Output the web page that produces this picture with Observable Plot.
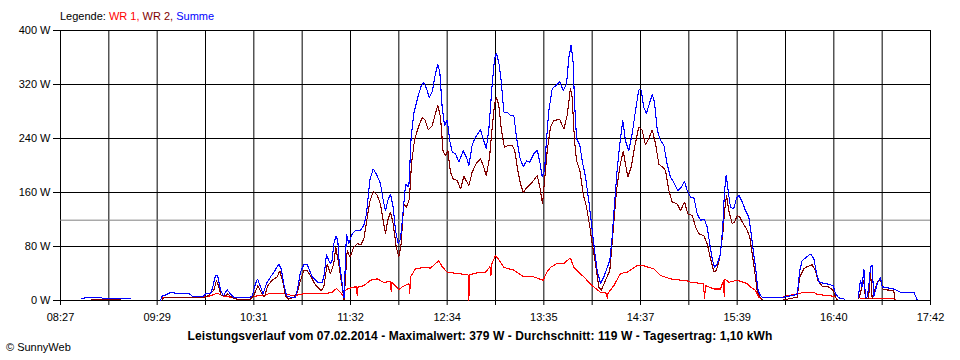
<!DOCTYPE html>
<html>
<head>
<meta charset="utf-8">
<script src="https://cdn.jsdelivr.net/npm/d3@7"></script>
<script src="https://cdn.jsdelivr.net/npm/@observablehq/plot@0.6"></script>
<style>
  html, body { margin: 0; padding: 0; background: #fff; }
  #wrap { position: relative; width: 960px; height: 360px; font-family: "Liberation Sans", Arial, sans-serif; color: #000; }
  #chart { position: absolute; left: 0; top: 0; }
  .txt { position: absolute; white-space: nowrap; line-height: 1; }
  #legend { left: 60px; top: 11px; font-size: 11px; }
  #title { left: 0; width: 960px; top: 330px; text-align: center; font-size: 12px; font-weight: bold; letter-spacing: 0.09px; }
  #copy { left: 6px; top: 342px; font-size: 11px; }
</style>
</head>
<body>
<div id="wrap">
  <div id="chart"></div>
  <div id="legend" class="txt"></div>
  <div id="title" class="txt"></div>
  <div id="copy" class="txt"></div>
</div>
<script>
// ---- Data (time in minutes since midnight, power in W) ----
const dayStart = 507;   // 08:27
const dayEnd = 1062;    // 17:42
const xTickLabels = ["08:27","09:29","10:31","11:32","12:34","13:35","14:37","15:39","16:40","17:42"];
const yTicks = [0, 80, 160, 240, 320, 400];
const seriesNames = ["WR 1", "WR 2", "Summe"];
const seriesColors = ["#ff0000", "#800000", "#0000ff"];
const dateText = "07.02.2014";
const maxWatt = 379;
const avgWatt = 119;
const dayYield = "1,10";

// WR 1
const wr1Time = [571.9,577.2,585.7,598.4,602.7,607.0,610.2,615.4,628.2,632.5,636.7,641.0,649.4,655.8,662.2,668.6,675.0,680.3,683.1,685.6,687.7,688.5,689.9,694.1,695.8,696.3,696.8,700.5,704.8,709.0,713.2,717.5,718.0,718.5,722.8,725.0,729.3,729.8,730.3,733.5,738.8,743.0,748.3,750.5,753.7,760.1,767.0,767.5,767.9,772.8,778.1,781.0,781.6,782.3,784.5,787.7,789.8,796.2,802.6,808.9,814.9,817.5,819.6,823.9,828.1,832.3,834.5,840.8,846.2,851.5,855.3,855.8,856.3,860.0,864.2,868.5,874.9,878.1,885.5,889.8,896.1,906.8,908.9,917.2,917.8,918.5,923.8,928.0,930.0,930.4,930.9,933.3,938.7,945.1,947.2,950.4,952.5,954.6,955.0,968.4,977.0,981.2,987.6,989.7,998.2,1001.4,1002.5,1003.0,1017.3,1038.6,1039.7];
const wr1Watt = [4,4,5,5,7,11,7,5,4,7,7,11,10,7,10,11,10,12,18,12,5,14,17,20,20,7,20,22,30,32,27,28,12,27,16,20,25,10,35,47,49,48,59,50,42,40,38,0,38,41,42,50,37,55,67,57,49,45,35,35,30,43,49,55,55,63,49,35,22,12,11,3,11,22,40,42,52,52,47,37,32,29,27,25,3,22,17,17,30,5,32,27,30,25,20,15,5,1,null,6,10,12,12,9,7,5,1,null,3,3,1];

// WR 2
const wr2Time = [526.6,545.3,546.0,571.9,574.0,585.5,586.7,598.2,600.6,604.8,606.5,608.0,609.5,612.3,613.7,616.5,619.7,628.2,630.3,632.9,635.0,637.1,639.2,642.1,645.2,646.9,649.1,650.5,652.6,655.8,658.0,660.1,662.2,664.4,666.5,668.6,670.8,673.3,675.0,677.1,679.2,681.3,682.6,684.5,686.7,687.9,689.9,691.6,694.1,696.3,698.8,700.5,702.2,704.3,706.5,709.0,711.1,713.2,714.3,715.8,717.5,719.2,721.2,722.8,724.3,726.0,727.7,729.6,730.9,732.8,734.9,737.7,739.4,741.6,744.1,746.2,747.7,749.4,751.1,752.6,754.1,755.8,757.5,760.1,762.2,764.3,766.4,767.5,769.6,772.2,774.9,777.0,778.6,780.7,782.4,783.9,785.1,786.6,788.3,790.2,793.0,795.2,796.8,798.7,800.4,802.2,804.7,807.9,811.1,812.8,814.5,815.8,817.5,819.6,821.7,825.5,828.1,830.2,832.3,833.4,834.9,836.2,838.3,840.4,842.6,844.7,846.2,848.3,850.4,851.9,854.7,857.4,859.6,861.7,863.8,866.0,867.4,868.9,871.1,873.2,875.9,878.1,880.2,882.3,884.5,886.6,888.7,890.8,892.9,895.1,897.2,900.4,902.5,905.1,907.2,910.0,912.1,914.2,917.4,919.5,921.7,923.8,925.5,927.6,929.5,930.8,931.9,933.3,935.5,937.0,938.7,940.3,942.5,945.1,946.7,948.3,949.9,951.4,953.1,954.6,955.0,968.4,977.0,978.6,981.2,983.3,986.5,988.6,990.1,992.9,997.1,999.9,1001.4,1002.5,1003.0,1016.3,1019.5,1020.5,1022.5,1023.7,1024.8,1028.0,1030.1,1031.8,1038.6,1039.2];
const wr2Watt = [1.5,1.5,null,2,5,5,4,4,6,15,30,20,7,7,10,4,2,2,7,22,12,5,22,30,35,44,25,7,2,5,12,30,44,44,37,27,20,15,20,54,40,54,79,54,20,1,74,64,79,84,83,91,116,146,162,156,143,114,99,119,131,114,79,64,84,143,138,151,202,237,254,271,268,253,259,277,289,272,220,215,222,190,180,178,165,184,175,170,190,203,210,198,185,212,257,291,301,289,252,227,230,230,222,193,173,160,168,175,185,168,143,178,222,257,267,268,254,274,314,301,237,207,193,158,138,109,84,54,20,15,30,44,104,163,198,222,202,183,198,227,257,252,230,240,253,232,202,198,193,163,146,143,133,146,128,126,109,99,96,84,62,42,45,64,99,136,156,133,114,116,126,124,114,104,94,69,42,15,6,1,null,1,5,35,47,50,53,44,30,21,20,15,5,1,null,3,30,3,3,44,3,27,30,16,15,1];

// Summe
const sumTime = [520.4,526.6,532.5,533.8,545.3,548.5,551.7,552.0,570.8,571.9,574.0,577.2,579.1,580.4,585.5,586.7,588.7,591.2,598.2,599.5,602.7,603.8,605.9,607.2,607.8,609.1,611.0,613.3,615.4,617.4,628.2,629.3,631.4,632.7,634.6,636.3,638.4,641.0,643.1,646.3,647.8,649.4,651.2,653.7,656.9,658.0,660.1,662.2,664.4,666.0,667.6,669.7,671.8,673.9,675.0,676.7,678.2,679.2,680.3,681.3,682.8,683.9,684.5,686.7,687.9,689.4,690.9,693.1,695.2,698.4,700.5,702.2,704.3,706.5,709.0,711.1,712.9,714.3,715.8,717.5,719.2,720.7,722.4,723.9,725.6,727.1,729.2,730.7,732.4,734.9,737.1,738.8,740.5,742.2,744.1,746.2,747.7,749.0,750.5,752.0,753.7,755.3,756.9,759.0,761.1,763.9,766.0,767.5,769.6,771.7,774.9,777.0,778.6,780.2,782.4,783.9,785.1,786.6,788.1,789.8,792.0,794.1,796.2,797.9,800.0,802.2,804.3,806.4,808.9,811.1,812.8,814.3,815.8,817.0,818.5,820.7,822.8,825.5,827.7,829.8,831.3,832.8,834.1,834.9,836.2,838.3,839.8,841.9,844.0,845.7,847.7,849.4,851.5,853.6,855.8,857.4,858.9,860.4,862.1,863.8,865.7,867.4,869.5,871.7,873.8,875.9,877.4,879.1,880.8,882.3,884.5,885.9,887.7,889.8,891.9,894.0,896.1,898.7,900.8,903.0,905.1,906.8,908.9,911.0,913.2,915.3,917.8,919.5,921.2,922.7,924.2,925.9,928.0,929.5,930.6,931.7,932.9,934.4,936.5,938.2,939.7,941.9,944.0,946.1,947.6,948.9,950.4,951.8,953.1,954.6,968.4,970.6,977.0,978.6,980.1,982.3,985.4,987.6,989.3,991.0,992.9,997.1,999.9,1001.4,1003.5,1007.1,1007.5,1015.9,1017.3,1018.4,1019.5,1020.5,1021.6,1022.6,1023.7,1024.8,1025.8,1028.0,1030.1,1031.2,1032.2,1038.6,1042.9,1051.4,1053.5];
const sumWatt = [3,5,5,3.5,3.5,2.5,2.5,null,0,7,8,12,12,10,10,11,11,6,6,10,10,17,37,37,30,15,7,16,10,5,5,7,25,32,20,10,25,35,42,54,47,25,7,5,5,15,42,53,53,44,35,30,26,27,35,68,59,54,60,84,95,89,64,25,3,98,84,99,104,104,111,128,178,195,185,173,148,133,148,158,138,104,84,91,133,172,168,242,277,301,318,323,314,301,309,336,350,338,286,259,267,237,220,217,205,222,212,200,230,242,253,237,225,252,321,358,366,353,326,279,279,274,274,242,212,198,207,205,217,223,205,183,193,237,281,314,318,324,311,321,360,379,351,294,240,230,207,183,148,114,74,44,25,35,49,59,94,143,193,232,267,237,222,247,281,312,312,286,277,289,305,294,252,237,230,202,183,173,163,168,176,163,153,153,128,119,120,109,84,62,49,54,69,109,163,186,163,138,136,151,156,146,133,124,99,74,49,17,9,5,5,6,9,44,59,63,69,62,40,27,26,24,22,10,4,2,null,5,30,20,47,5,5,20,49,53,5,25,34,20,20,17,12,12,1];

// ---- Build ----
const toRows = (times, watts) => times.map((t, i) => ({t, w: watts[i]}));
const series = [toRows(wr1Time, wr1Watt), toRows(wr2Time, wr2Watt), toRows(sumTime, sumWatt)];

const gridCount = (xTickLabels.length - 1) * 2;
const gridTimes = d3.range(gridCount + 1).map(i => dayStart + i * (dayEnd - dayStart) / gridCount);
const labelOf = new Map(gridTimes.map((g, i) => [g, i % 2 === 0 ? xTickLabels[i / 2] : ""]));

const chart = Plot.plot({
  width: 960,
  height: 360,
  marginLeft: 60,
  marginRight: 30,
  marginTop: 30,
  marginBottom: 60,
  style: {fontFamily: "'Liberation Sans', Arial, sans-serif", fontSize: "11px", background: "#fff", color: "#000", overflow: "visible"},
  x: {type: "linear", domain: [dayStart, dayEnd]},
  y: {domain: [0, 400]},
  marks: [
    Plot.ruleX(gridTimes, {stroke: "#000", strokeWidth: 1}),
    Plot.ruleY(yTicks, {stroke: "#000", strokeWidth: 1}),
    Plot.ruleY([avgWatt], {stroke: "#808080", strokeWidth: 1}),
    ...series.map((rows, k) => Plot.line(rows, {x: "t", y: "w", stroke: seriesColors[k], strokeWidth: 1.1, strokeLinejoin: "miter", shapeRendering: "crispEdges"})),
    Plot.axisX(gridTimes, {tickSize: 5, tickPadding: 8, tickFormat: d => labelOf.get(d), stroke: "#000", strokeOpacity: 1, fill: "#000", label: null}),
    Plot.axisY(yTicks, {tickSize: 7, tickPadding: 3, tickFormat: d => `${d} W`, stroke: "#000", strokeOpacity: 1, fill: "#000", label: null})
  ]
});
document.getElementById("chart").appendChild(chart);

// ---- Texts ----
const legend = document.getElementById("legend");
legend.append("Legende: ");
seriesNames.forEach((name, k) => {
  const s = document.createElement("span");
  s.style.color = seriesColors[k];
  s.textContent = name + (k < seriesNames.length - 1 ? ", " : "");
  legend.append(s);
});
document.getElementById("title").textContent =
  `Leistungsverlauf vom ${dateText} - Maximalwert: ${maxWatt} W - Durchschnitt: ${avgWatt} W - Tagesertrag: ${dayYield} kWh`;
document.getElementById("copy").textContent = "\u00A9 SunnyWeb";
</script>
</body>
</html>
